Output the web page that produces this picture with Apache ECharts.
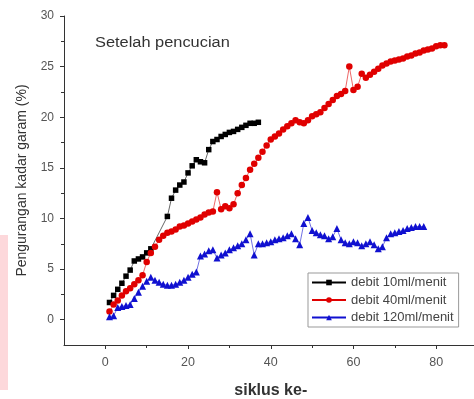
<!DOCTYPE html>
<html>
<head>
<meta charset="utf-8">
<script src="https://cdn.jsdelivr.net/npm/echarts@6/dist/echarts.min.js"></script>
<style>html,body{margin:0;padding:0;background:#fff}#c{width:474px;height:399px}</style>
</head>
<body>
<div id="c"></div>
<script>
// ---- data ----
const xTicks = [0, 20, 40, 60, 80];
const xMinorTicks = [10, 30, 50, 70, 90];
const yTicks = [0, 5, 10, 15, 20, 25, 30];
const yMinorTicks = [2.5, 7.5, 12.5, 17.5, 22.5, 27.5];

const names = ['debit 10ml/menit', 'debit 40ml/menit', 'debit 120ml/menit'];

const cyclesA = [1,2,3,4,5,6,7,8,9,10,11,15,16,17,18,19,20,21,22,23,24,25,26,27,28,29,30,31,32,33,34,35,36,37];
const valuesA = [1.7,2.4,3.0,3.6,4.3,4.9,5.8,6.0,6.2,6.6,7.0,10.2,12.0,12.8,13.3,13.6,14.5,15.2,15.8,15.6,15.5,16.8,17.6,17.8,18.1,18.3,18.5,18.6,18.8,19.0,19.2,19.4,19.4,19.5];

const cyclesB = [1,2,3,4,5,6,7,8,9,10,11,12,13,14,15,16,17,18,19,20,21,22,23,24,25,26,27,28,29,30,31,32,33,34,35,36,37,38,39,40,41,42,43,44,45,46,47,48,49,50,51,52,53,54,55,56,57,58,59,60,61,62,63,64,65,66,67,68,69,70,71,72,73,74,75,76,77,78,79,80,81,82];
const valuesB = [0.8,1.5,1.9,2.4,2.8,3.1,3.5,3.9,4.4,5.7,6.6,7.2,7.9,8.3,8.6,8.7,8.9,9.2,9.3,9.5,9.7,9.9,10.1,10.4,10.6,10.7,12.6,10.9,11.2,11.0,11.4,12.5,13.3,14.0,14.8,15.4,16.0,16.6,17.2,17.8,18.1,18.4,18.8,19.1,19.4,19.7,19.5,19.4,19.7,20.1,20.3,20.5,20.9,21.3,21.7,22.1,22.3,22.6,25.0,22.7,23.0,24.3,23.9,24.2,24.5,24.8,25.1,25.3,25.5,25.6,25.7,25.8,26.0,26.1,26.3,26.4,26.6,26.7,26.8,27.0,27.1,27.1];

const cyclesC = [1,2,3,4,5,6,7,8,9,10,11,12,13,14,15,16,17,18,19,20,21,22,23,24,25,26,27,28,29,30,31,32,33,34,35,36,37,38,39,40,41,42,43,44,45,46,47,48,49,50,51,52,53,54,55,56,57,58,59,60,61,62,63,64,65,66,67,68,69,70,71,72,73,74,75,76,77];
const valuesC = [0.3,0.4,1.2,1.3,1.4,1.5,2.1,2.7,3.3,3.8,4.2,3.9,3.7,3.5,3.4,3.4,3.5,3.7,3.9,4.2,4.5,4.7,6.3,6.5,6.8,6.9,6.1,6.4,6.6,6.9,7.1,7.3,7.5,7.9,8.5,6.4,7.5,7.5,7.6,7.7,7.9,8.0,8.1,8.3,8.5,8.0,7.4,9.5,10.1,8.8,8.6,8.4,8.3,8.0,8.2,9.0,7.9,7.6,7.5,7.7,7.6,7.3,7.5,7.7,7.4,7.0,7.2,8.1,8.5,8.6,8.7,8.8,9.0,9.1,9.2,9.2,9.2];

const zip = (xs, ys) => xs.map((x, i) => [x, ys[i]]);

const FONT = 'Liberation Sans, Arial, sans-serif';
const axisColor = '#333';

const chart = echarts.init(document.getElementById('c'), null, {renderer: 'canvas'});
const baseX = {
  type: 'value', min: -10, max: 90, gridIndex: 0, position: 'bottom',
  splitLine: {show: false},
  axisLine: {show: true, onZero: false, lineStyle: {color: axisColor, width: 1}},
};
const baseY = {
  type: 'value', min: -2.5, max: 30, gridIndex: 0, position: 'left',
  splitLine: {show: false},
  axisLine: {show: true, onZero: false, lineStyle: {color: axisColor, width: 1}},
};
chart.setOption({
  animation: false,
  backgroundColor: '#fff',
  grid: {left: 64, top: 16, width: 413.5, height: 329, containLabel: false, outerBoundsMode: 'none'},
  xAxis: [
    Object.assign({}, baseX, {
      name: 'siklus ke-', nameLocation: 'middle', nameGap: 38,
      nameTextStyle: {fontFamily: FONT, fontSize: 16, color: '#333', fontWeight: 'bold'},
      axisTick: {show: true, length: 4, inside: false, customValues: xTicks, lineStyle: {color: axisColor}},
      axisLabel: {show: true, customValues: xTicks, margin: 11, fontFamily: FONT, fontSize: 12.5, color: '#555'}
    }),
    Object.assign({}, baseX, {
      axisLine: {show: false, onZero: false},
      axisTick: {show: true, length: 3, inside: false, customValues: xMinorTicks, lineStyle: {color: axisColor}},
      axisLabel: {show: false}
    })
  ],
  yAxis: [
    Object.assign({}, baseY, {
      name: 'Pengurangan kadar garam (%)', nameLocation: 'middle', nameGap: 35,
      nameTextStyle: {fontFamily: FONT, fontSize: 14, color: '#333'},
      axisTick: {show: true, length: 4, inside: false, customValues: yTicks, lineStyle: {color: axisColor}},
      axisLabel: {show: true, customValues: yTicks, margin: 10, fontFamily: FONT, fontSize: 12, color: '#555'}
    }),
    Object.assign({}, baseY, {
      axisLine: {show: false, onZero: false},
      axisTick: {show: true, length: 3, inside: false, customValues: yMinorTicks, lineStyle: {color: axisColor}},
      axisLabel: {show: false}
    })
  ],
  legend: {
    left: 308, top: 273, orient: 'vertical',
    itemWidth: 34, itemHeight: 7, itemGap: 4.5,
    padding: [3, 5, 3, 3],
    borderColor: '#999', borderWidth: 1, backgroundColor: '#fff',
    textStyle: {fontFamily: FONT, fontSize: 13, color: '#444'},
    data: names
  },
  graphic: [
    {type: 'rect', left: 0, top: 235, shape: {width: 8, height: 155}, style: {fill: '#fdd8db'}, silent: true},
    {type: 'text', x: 95, y: 36, scaleX: 1.17,
     style: {text: 'Setelah pencucian', fontFamily: FONT, fontSize: 14, fill: '#333'}}
  ],
  series: [
    {name: names[0], type: 'line', data: zip(cyclesA, valuesA), symbol: 'rect', symbolSize: 5.5,
     lineStyle: {width: 0.6, color: '#000'}, itemStyle: {color: '#000'}},
    {name: names[1], type: 'line', data: zip(cyclesB, valuesB), symbol: 'circle', symbolSize: 6.5,
     lineStyle: {width: 0.6, color: '#e00000'}, itemStyle: {color: '#e00000'}},
    {name: names[2], type: 'line', data: zip(cyclesC, valuesC), symbol: 'triangle', symbolSize: 7,
     lineStyle: {width: 0.6, color: '#1010d0'}, itemStyle: {color: '#1010d0'}}
  ]
});
</script>
</body>
</html>
